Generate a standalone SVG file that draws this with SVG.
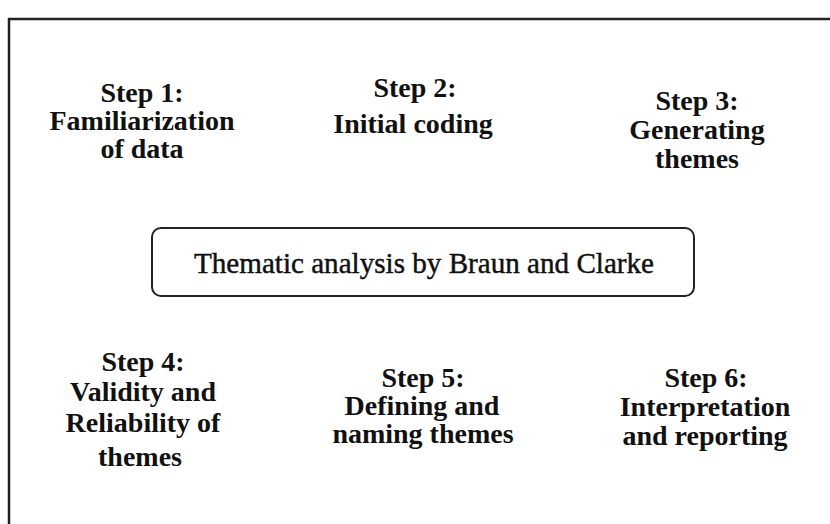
<svg xmlns="http://www.w3.org/2000/svg" width="830" height="524" viewBox="0 0 830 524">
<style>
.t{font-family:"Liberation Serif","Times New Roman",serif;font-size:28px;font-weight:bold;fill:#111;text-anchor:middle}
.c{font-family:"Liberation Serif","Times New Roman",serif;font-size:29px;fill:#111;stroke:#111;stroke-width:0.45;text-anchor:middle}
</style>
<rect x="0" y="0" width="830" height="524" fill="#fff"/>
<rect x="9" y="19" width="840" height="540" fill="none" stroke="#222" stroke-width="2.5"/>
<g id="connectors"></g>
<g id="step1">
<text class="t" x="142" y="102">Step 1:</text>
<text class="t" x="142" y="130">Familiarization</text>
<text class="t" x="142" y="158">of data</text>
</g>
<g id="step2">
<text class="t" x="415" y="97">Step 2:</text>
<text class="t" x="413" y="133">Initial coding</text>
</g>
<g id="step3">
<text class="t" x="697" y="110">Step 3:</text>
<text class="t" x="697" y="139">Generating</text>
<text class="t" x="697" y="168">themes</text>
</g>
<g id="center">
<rect x="152" y="228" width="542" height="68" rx="9" ry="9" fill="#fff" stroke="#222" stroke-width="2"/>
<text class="c" x="424" y="273" textLength="460" lengthAdjust="spacingAndGlyphs">Thematic analysis by Braun and Clarke</text>
</g>
<g id="step4">
<text class="t" x="143" y="371">Step 4:</text>
<text class="t" x="143" y="401">Validity and</text>
<text class="t" x="143" y="432">Reliability of</text>
<text class="t" x="140" y="466">themes</text>
</g>
<g id="step5">
<text class="t" x="423" y="387">Step 5:</text>
<text class="t" x="422" y="415">Defining and</text>
<text class="t" x="423" y="443">naming themes</text>
</g>
<g id="step6">
<text class="t" x="706" y="387">Step 6:</text>
<text class="t" x="705" y="416">Interpretation</text>
<text class="t" x="705" y="445">and reporting</text>
</g>
</svg>
